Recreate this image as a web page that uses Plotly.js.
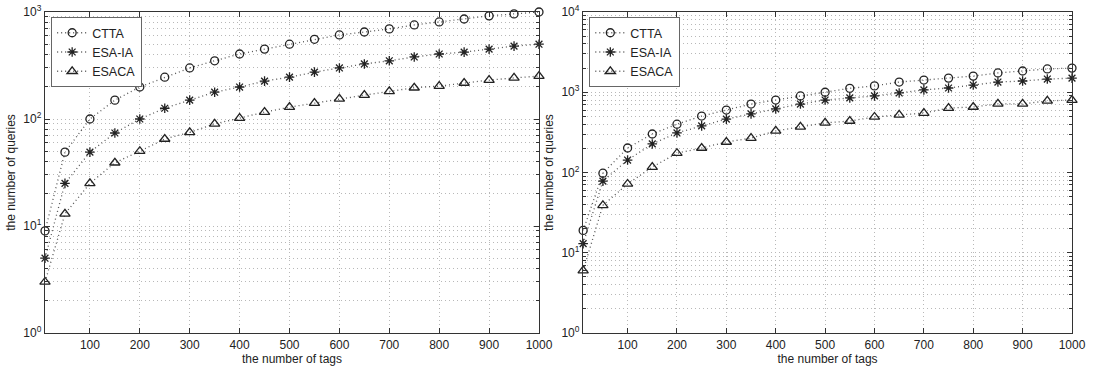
<!DOCTYPE html>
<html>
<head>
<meta charset="utf-8">
<script src="https://cdn.plot.ly/plotly-3.0.1.min.js"></script>
<style>html,body{margin:0;padding:0;background:#fff;}#chart{width:1095px;height:368px;}</style>
</head>
<body>
<div id="chart"></div>
<script>
// number of tags
const tags = [10, 50, 100, 150, 200, 250, 300, 350, 400, 450, 500, 550, 600, 650, 700, 750, 800, 850, 900, 950, 1000];

// left panel
const leftCTTA  = [9, 49, 100, 150, 199, 246, 300, 350, 405, 450, 500, 556, 610, 650, 695, 757, 807, 860, 920, 960, 1000];
const leftESAIA = [5, 25, 49, 74, 100, 126, 150, 178, 199, 226, 246, 274, 300, 327, 350, 380, 405, 422, 450, 480, 500];
const leftESACA = [3, 13, 25, 39, 50, 65, 75, 90, 102, 116, 129, 141, 154, 167, 181, 196, 203, 217, 231, 242, 252];

// right panel
const rightCTTA  = [19, 98, 202, 302, 400, 505, 600, 713, 800, 900, 1000, 1120, 1200, 1340, 1420, 1500, 1590, 1740, 1840, 1950, 2000];
const rightESAIA = [13, 78, 143, 227, 311, 381, 463, 537, 620, 713, 800, 850, 900, 980, 1070, 1130, 1230, 1340, 1380, 1460, 1500];
const rightESACA = [6, 39, 72, 117, 174, 202, 240, 268, 330, 370, 415, 438, 492, 522, 550, 635, 655, 715, 715, 780, 800];

const seriesNames = ['CTTA', 'ESA-IA', 'ESACA'];
const xTicks = [100, 200, 300, 400, 500, 600, 700, 800, 900, 1000];
const yTicksLeft = [1, 10, 100, 1000];
const yTicksLeftText = ['10<sup>0</sup>', '10<sup>1</sup>', '10<sup>2</sup>', '10<sup>3</sup>'];
const yTicksRight = [1, 10, 100, 1000, 10000];
const yTicksRightText = ['10<sup>0</sup>', '10<sup>1</sup>', '10<sup>2</sup>', '10<sup>3</sup>', '10<sup>4</sup>'];

const symbols = ['circle-open', 'asterisk-open', 'triangle-up-open'];
const sizes = [8, 8, 9];

function mk(y, i, xa, ya, leg) {
  return {
    x: tags, y: y, name: seriesNames[i], type: 'scatter', mode: 'lines+markers',
    xaxis: xa, yaxis: ya, legend: leg, cliponaxis: false,
    line: {color: '#555', width: 1.3, dash: '1px,3px'},
    marker: {symbol: symbols[i], size: sizes[i], color: '#222', line: {color: '#222', width: 1.3}}
  };
}

const data = [
  mk(leftCTTA, 0, 'x', 'y', 'legend'),
  mk(leftESAIA, 1, 'x', 'y', 'legend'),
  mk(leftESACA, 2, 'x', 'y', 'legend'),
  mk(rightCTTA, 0, 'x2', 'y2', 'legend2'),
  mk(rightESAIA, 1, 'x2', 'y2', 'legend2'),
  mk(rightESACA, 2, 'x2', 'y2', 'legend2')
];

const font = {family: 'Liberation Sans, Arial, sans-serif', size: 12, color: '#222'};
const gridCol = '#b8b8b8';
const gridDash = '1px,3px';

function xax(domain, anchor) {
  return {
    domain: domain, anchor: anchor, range: [10, 1000],
    tickvals: xTicks, ticks: 'inside', ticklen: 5, tickcolor: '#333', tickangle: 0,
    showline: true, linecolor: '#333', linewidth: 1.3, mirror: 'ticks',
    showgrid: true, gridcolor: gridCol, griddash: gridDash, gridwidth: 1,
    zeroline: false, tickfont: font, automargin: false,
    title: {text: 'the number of tags', font: font, standoff: 3}
  };
}
function yax(domain, anchor, range, tv, tt) {
  return {
    domain: domain, anchor: anchor, type: 'log', range: range,
    tickvals: tv, ticktext: tt, ticks: 'inside', ticklen: 5, tickcolor: '#333',
    showline: true, linecolor: '#333', linewidth: 1.3, mirror: 'ticks',
    showgrid: true, gridcolor: gridCol, griddash: gridDash, gridwidth: 1,
    minor: {showgrid: true, gridcolor: gridCol, griddash: gridDash, gridwidth: 1, ticks: 'inside', ticklen: 3, tickcolor: '#333', dtick: 'D1'},
    zeroline: false, tickfont: font, automargin: false,
    title: {text: 'the number of queries', font: font, standoff: 5}
  };
}

const legendBase = {
  xref: 'paper', yref: 'paper', xanchor: 'left', yanchor: 'top',
  bgcolor: '#fff', bordercolor: '#666', borderwidth: 1,
  font: {family: 'Liberation Sans, Arial, sans-serif', size: 12.5, color: '#222'},
  itemwidth: 30, tracegroupgap: 0
};

const layout = {
  width: 1095, height: 368,
  margin: {l: 45, r: 23, t: 12, b: 35, autoexpand: false},
  paper_bgcolor: '#fff', plot_bgcolor: '#fff',
  font: font,
  showlegend: true,
  xaxis: xax([0, 0.481], 'y'),
  yaxis: yax([0, 1], 'x', [0, 3], yTicksLeft, yTicksLeftText),
  xaxis2: xax([0.524, 1], 'y2'),
  yaxis2: yax([0, 1], 'x2', [0, 4], yTicksRight, yTicksRightText),
  legend: Object.assign({}, legendBase, {x: 0.006, y: 0.984}),
  legend2: Object.assign({}, legendBase, {x: 0.53, y: 0.984})
};

Plotly.newPlot('chart', data, layout, {displayModeBar: false, staticPlot: true});
</script>
</body>
</html>
